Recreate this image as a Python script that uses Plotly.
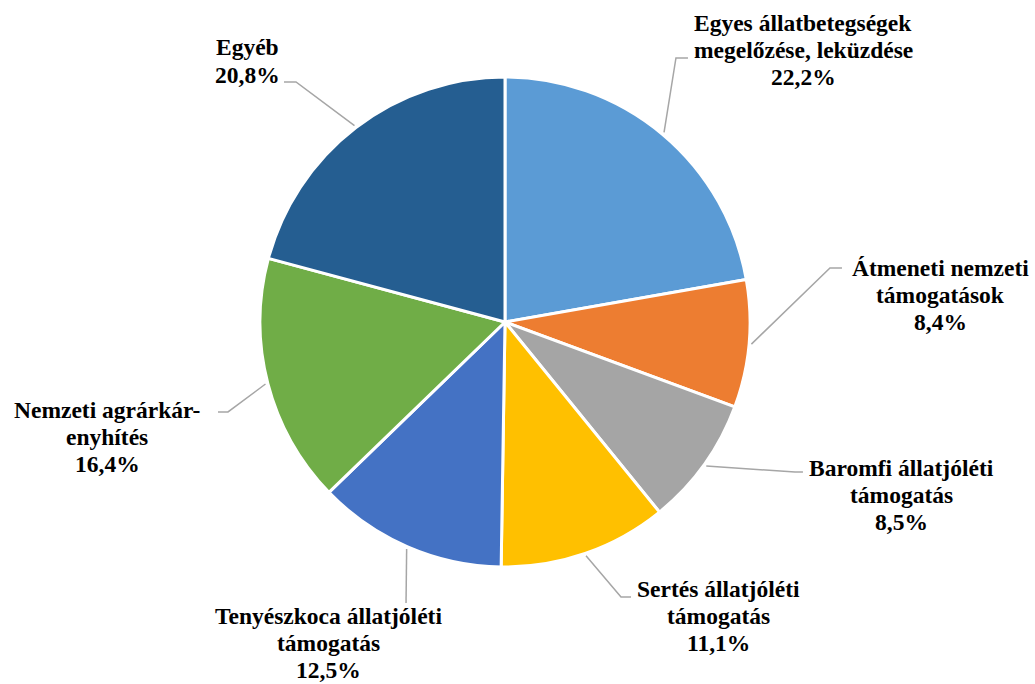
import math
import plotly.graph_objects as go

labels = [
    "Egyes állatbetegségek|megelőzése, leküzdése",
    "Átmeneti nemzeti|támogatások",
    "Baromfi állatjóléti|támogatás",
    "Sertés állatjóléti|támogatás",
    "Tenyészkoca állatjóléti|támogatás",
    "Nemzeti agrárkár-|enyhítés",
    "Egyéb",
]
values = [22.2, 8.4, 8.5, 11.1, 12.5, 16.4, 20.8]
colors = ["#5B9BD5", "#ED7D31", "#A5A5A5", "#FFC000", "#4472C4", "#70AD47", "#255E91"]

# label placement (pixel layout), text centre and leader-line elbow points
label_pos = [(803, 50), (940, 295), (901, 495), (718, 616), (328, 643), (107, 437), (247, 61)]
elbows = [[(676, 58), (688, 58)],
          [(830, 268), (842, 268)],
          [(795, 472), (803, 472)],
          [(621, 597), (631, 597)],
          [(406, 603)],
          [(228, 412), (218, 412)],
          [(296, 82), (284, 82)]]

W, H = 1035, 684
cx, cy, R = 505, 322, 245
FONT = "Liberation Serif"
FS = 23.5
LINE = 27.3

fig = go.Figure(go.Pie(
    labels=[l.replace("|", " ") for l in labels], values=values, sort=False,
    direction="clockwise", rotation=0,
    marker=dict(colors=colors, line=dict(color="white", width=3)),
    textinfo="none", hoverinfo="label+percent", showlegend=False,
    domain=dict(x=[(cx - R) / W, (cx + R) / W], y=[(H - cy - R) / H, (H - cy + R) / H]),
))

def px2paper(x, y):
    return x / W, 1 - y / H

total = sum(values)
cum = 0
shapes = []
annotations = []
for lab, v, (lx, ly), el in zip(labels, values, label_pos, elbows):
    mid = (cum + v / 2) / total * 2 * math.pi
    cum += v
    sx = cx + R * 1.01 * math.sin(mid)
    sy = cy - R * 1.01 * math.cos(mid)
    pts = [(sx, sy)] + el
    path = "M " + " L ".join("%.4f,%.4f" % px2paper(x, y) for x, y in pts)
    shapes.append(dict(type="path", xref="paper", yref="paper", path=path,
                       line=dict(color="#A6A6A6", width=1.5)))
    lines = lab.split("|") + [("%.1f" % v).replace(".", ",") + "%"]
    n = len(lines)
    for i, t in enumerate(lines):
        px, py = px2paper(lx, ly + (i - (n - 1) / 2) * LINE)
        annotations.append(dict(
            x=px, y=py, xref="paper", yref="paper", xanchor="center", yanchor="middle",
            text="<b>%s</b>" % t, showarrow=False, align="center",
            font=dict(family=FONT, size=FS, color="black"),
        ))

fig.update_layout(
    width=W, height=H, margin=dict(l=0, r=0, t=0, b=0),
    paper_bgcolor="white", plot_bgcolor="white",
    font=dict(family=FONT),
    shapes=shapes, annotations=annotations,
)
fig.write_html("out.html", config={"displayModeBar": False},
               post_script="document.body.style.margin='0';document.body.style.overflow='hidden';")
